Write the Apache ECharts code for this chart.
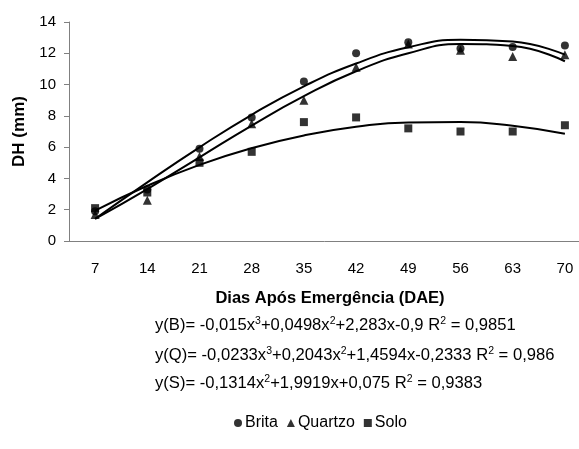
<!DOCTYPE html>
<html>
<head>
<meta charset="utf-8">
<script src="https://cdn.jsdelivr.net/npm/echarts@6/dist/echarts.min.js"></script>
<style>
  html, body { margin: 0; padding: 0; background: #fff; }
  #cnv { width: 579px; height: 449px; }
</style>
</head>
<body>
<div id="cnv"></div>
<script>
// dias apos emergencia
var dias = ["7", "14", "21", "28", "35", "42", "49", "56", "63", "70"];
var yTicks = [0, 2, 4, 6, 8, 10, 12, 14];

// pontos observados
var brita = [1.9, 3.3, 5.9, 7.9, 10.2, 12.0, 12.7, 12.3, 12.4, 12.5];
var quartzo = [1.7, 2.6, 5.4, 7.5, 9.0, 11.1, 12.6, 12.2, 11.8, 11.9];
var solo = [2.1, 3.1, 5.0, 5.7, 7.6, 7.9, 7.2, 7.0, 7.0, 7.4];

// linhas de tendencia
var britaTend = [1.42, 3.75, 5.99, 8.07, 9.89, 11.35, 12.38, 12.87, 12.75, 11.91];
var quartzoTend = [1.41, 3.32, 5.35, 7.38, 9.26, 10.85, 12.0, 12.59, 12.46, 11.49];
var soloTend = [1.94, 3.53, 4.87, 5.94, 6.75, 7.30, 7.58, 7.60, 7.36, 6.85];

var main = document.getElementById("cnv");
var myechart = echarts.init(main);

var font = "Liberation Sans, Arial, sans-serif";
function eq(txt, y) {
    return {
        type: "text", left: 155, top: y,
        style: {
            text: txt, fontFamily: font, fontSize: 16.6, fill: "#000",
            rich: {
                s: { fontSize: 10.5, fontFamily: font, lineHeight: 18, verticalAlign: "top", padding: [0, 0, 6, 0] }
            }
        }
    };
}

function tend(d) {
    return {
        type: "line", data: d, smooth: true, symbol: "none", silent: true,
        lineStyle: { color: "#000", width: 2 }, z: 1
    };
}
function pts(name, d, sym, size) {
    return {
        name: name, type: "scatter", data: d, symbol: sym, symbolSize: size,
        itemStyle: { color: "#000" }, z: 3
    };
}

var option = {
    animation: false,
    backgroundColor: "#fff",
    grid: { left: 69, top: 22, bottom: 208, width: 522, outerBoundsMode: "none" },
    xAxis: {
        type: "category", data: dias,
        name: "Dias Após Emergência (DAE)", nameLocation: "middle", nameGap: 49,
        nameTextStyle: { fontFamily: font, fontSize: 16.5, fontWeight: "bold", color: "#000" },
        axisLine: { lineStyle: { color: "#808080", width: 1 } },
        axisTick: { length: 5, lineStyle: { color: "#808080" } },
        axisLabel: { fontFamily: font, fontSize: 15, color: "#000", margin: 20 }
    },
    yAxis: {
        type: "value", min: yTicks[0], max: yTicks[yTicks.length - 1], interval: 2,
        name: "DH (mm)", nameLocation: "middle", nameGap: 41, nameRotate: 90,
        nameTextStyle: { fontFamily: font, fontSize: 17, fontWeight: "bold", color: "#000" },
        axisLine: { show: true, lineStyle: { color: "#808080", width: 1 } },
        axisTick: { show: true, length: 5, lineStyle: { color: "#808080" } },
        axisLabel: { fontFamily: font, fontSize: 15, color: "#000", margin: 13 },
        splitLine: { show: false }
    },
    legend: {
        data: ["Brita", "Quartzo", "Solo"],
        left: 229, top: 410, itemWidth: 8, itemHeight: 8, itemGap: 9,
        textStyle: { fontFamily: font, fontSize: 16, color: "#000", padding: [0, 0, 0, -2] }
    },
    graphic: [
        eq("y(B)= -0,015x{s|3}+0,0498x{s|2}+2,283x-0,9 R{s|2} = 0,9851", 316),
        eq("y(Q)= -0,0233x{s|3}+0,2043x{s|2}+1,4594x-0,2333 R{s|2} = 0,986", 346),
        eq("y(S)= -0,1314x{s|2}+1,9919x+0,075 R{s|2} = 0,9383", 374)
    ],
    series: [
        tend(britaTend), tend(quartzoTend), tend(soloTend),
        pts("Brita", brita, "circle", 8),
        pts("Quartzo", quartzo, "triangle", 9),
        pts("Solo", solo, "rect", 8)
    ]
};
myechart.setOption(option);
</script>
</body>
</html>
